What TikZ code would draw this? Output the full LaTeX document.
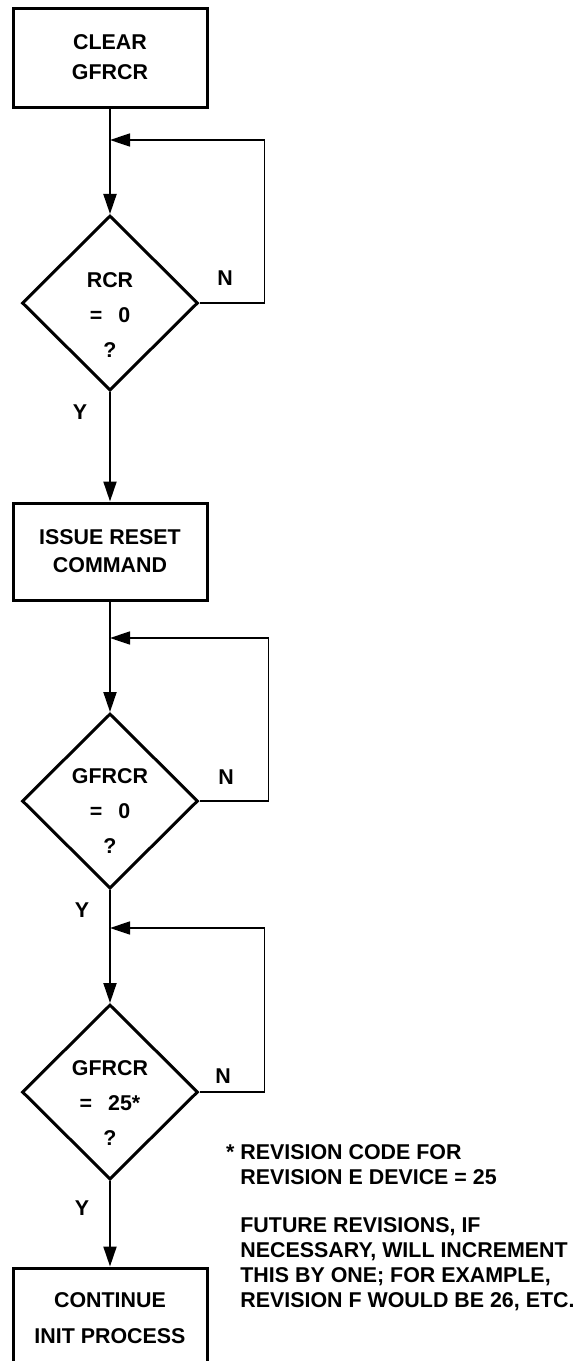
\documentclass[tikz,border=0pt]{standalone}
\usepackage{fontspec}
\setmainfont{Liberation Sans}
\usetikzlibrary{shapes.geometric,arrows.meta}

\begin{document}
\begin{tikzpicture}[x=0.5pt,y=-0.5pt,
        font=\bfseries\fontsize{10.7}{12.5}\selectfont,
        >={Triangle[length=10pt,width=6.5pt]},
        procbox/.style={draw,line width=1.5pt,minimum width=97pt,inner sep=0pt,align=center},
        decision/.style={draw,diamond,line width=1.5pt,minimum width=88pt,minimum height=87.5pt,inner sep=0pt},
        qtext/.style={align=center,inner sep=0pt},
        flow/.style={->,line width=1pt},
        loopback/.style={->,line width=0.8pt}]
        \useasboundingbox (0,0) rectangle (575,1361);
        \clip (0,0) rectangle (575,1361);
        \node[procbox,minimum height=49.5pt] (clear) at (110,57.5) {CLEAR\\[2.5pt]GFRCR};
        \node[decision] (rcr) at (110,303) {};
        \node[qtext] (rcrq) at (110,315) {RCR\\[5pt]=\hspace{8pt}0\\[5pt]?};
        \node[procbox,minimum height=48.5pt] (reset) at (110,551.5) {ISSUE RESET\\[1.5pt]COMMAND};
        \node[decision] (gfzero) at (110,801) {};
        \node[qtext] (gfzeroq) at (110,811) {GFRCR\\[5pt]=\hspace{8pt}0\\[5pt]?};
        \node[decision] (gfrev) at (110,1092) {};
        \node[qtext] (gfrevq) at (110,1103.5) {GFRCR\\[5pt]=\hspace{8pt}25*\\[5pt]?};
        \node[procbox,minimum height=50pt] (cont) at (110,1318) {CONTINUE\\[5.5pt]INIT PROCESS};
        \coordinate (j1) at (110,140);
        \coordinate (j2) at (110,638);
        \coordinate (j3) at (110,928);
        \draw[flow] (clear) -- (rcr);
        \draw[loopback] (rcr.east) -- ++(65,0) |- (j1);
        \draw[flow] (rcr) -- (reset);
        \draw[flow] (reset) -- (gfzero);
        \draw[loopback] (gfzero.east) -- ++(69,0) |- (j2);
        \draw[flow] (gfzero) -- (gfrev);
        \draw[loopback] (gfrev.east) -- ++(65,0) |- (j3);
        \draw[flow] (gfrev) -- (cont);
        \node (n1) at (225,278) {N};
        \node (n2) at (226,777) {N};
        \node (n3) at (223,1076) {N};
        \node (y1) at (80,412) {Y};
        \node (y2) at (82,910) {Y};
        \node (y3) at (82,1208) {Y};
        \node[anchor=north west,align=left,inner sep=0pt] (note) at (240,1144) {\llap{*\ }REVISION CODE FOR\\REVISION E DEVICE = 25\\[11.5pt]FUTURE REVISIONS, IF\\NECESSARY, WILL INCREMENT\\THIS BY ONE; FOR EXAMPLE,\\REVISION F WOULD BE 26, ETC.};
    \end{tikzpicture}
\end{document}
